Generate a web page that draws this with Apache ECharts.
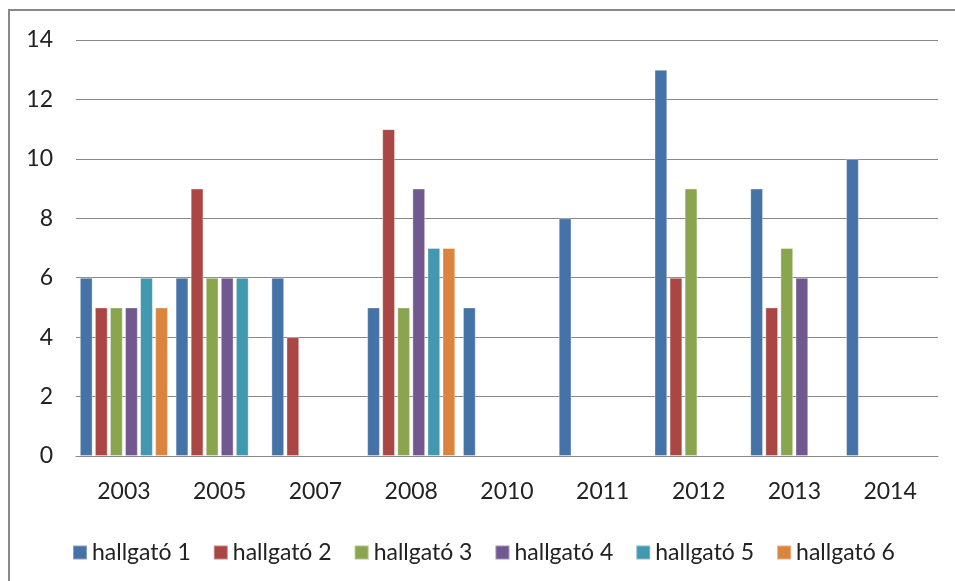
<!DOCTYPE html>
<html>
<head>
<meta charset="utf-8">
<script src="https://cdn.jsdelivr.net/npm/echarts@6/dist/echarts.min.js"></script>
<style>
  html, body { margin: 0; padding: 0; background: #fff; }
  #chart { width: 955px; height: 581px; }
</style>
</head>
<body>
<div id="chart"></div>
<script>
// 年份
const years = ['2003', '2005', '2007', '2008', '2010', '2011', '2012', '2013', '2014']
const names = ['hallgató 1', 'hallgató 2', 'hallgató 3', 'hallgató 4', 'hallgató 5', 'hallgató 6']
// 各个 hallgató 的数据 (null = 没有数据)
const h1 = [6, 6, 6, 5, 5, 8, 13, 9, 10]
const h2 = [5, 9, 4, 11, null, null, 6, 5, null]
const h3 = [5, 6, null, 5, null, null, 9, 7, null]
const h4 = [5, 6, null, 9, null, null, null, 6, null]
const h5 = [6, 6, null, 7, null, null, null, null, null]
const h6 = [5, null, null, 7, null, null, null, null, null]
const colors = ['#4572A7', '#AA4643', '#89A54E', '#71588F', '#4198AF', '#DB843D']
const font = 'Lato, "Open Sans", sans-serif'

let myChart = echarts.init(document.getElementById('chart'))
myChart.setOption({
    animation: false,
    color: colors,
    graphic: [{ // 外框
        type: 'rect',
        shape: { x: 9, y: 10, width: 960, height: 600 },
        style: { fill: 'none', stroke: '#888', lineWidth: 2 }
    }],
    grid: {
        left: 76,
        right: 17,
        top: 40,
        bottom: 125
    },
    legend: {
        left: 67,
        top: 536,
        itemWidth: 14,
        itemHeight: 14,
        itemGap: 22,
        icon: 'rect',
        textStyle: { fontSize: 23, color: '#222', fontFamily: font },
        data: names
    },
    xAxis: {
        type: 'category',
        data: years,
        axisLine: { lineStyle: { color: '#888' } },
        axisTick: { show: false },
        axisLabel: { margin: 24, fontSize: 23, color: '#222', fontFamily: font }
    },
    yAxis: {
        type: 'value',
        min: 0,
        max: 14,
        interval: 2,
        axisLine: { show: false },
        axisTick: { show: false },
        axisLabel: { margin: 23, fontSize: 23, color: '#222', fontFamily: font },
        splitLine: { lineStyle: { color: '#888' } }
    },
    series: [h1, h2, h3, h4, h5, h6].map(function (d, i) {
        return {
            name: names[i],
            type: 'bar',
            data: d,
            barGap: '18%',
            barCategoryGap: '8%',
            itemStyle: { borderColor: 'rgba(255,255,255,0.35)', borderWidth: 1 }
        }
    })
})
</script>
</body>
</html>
